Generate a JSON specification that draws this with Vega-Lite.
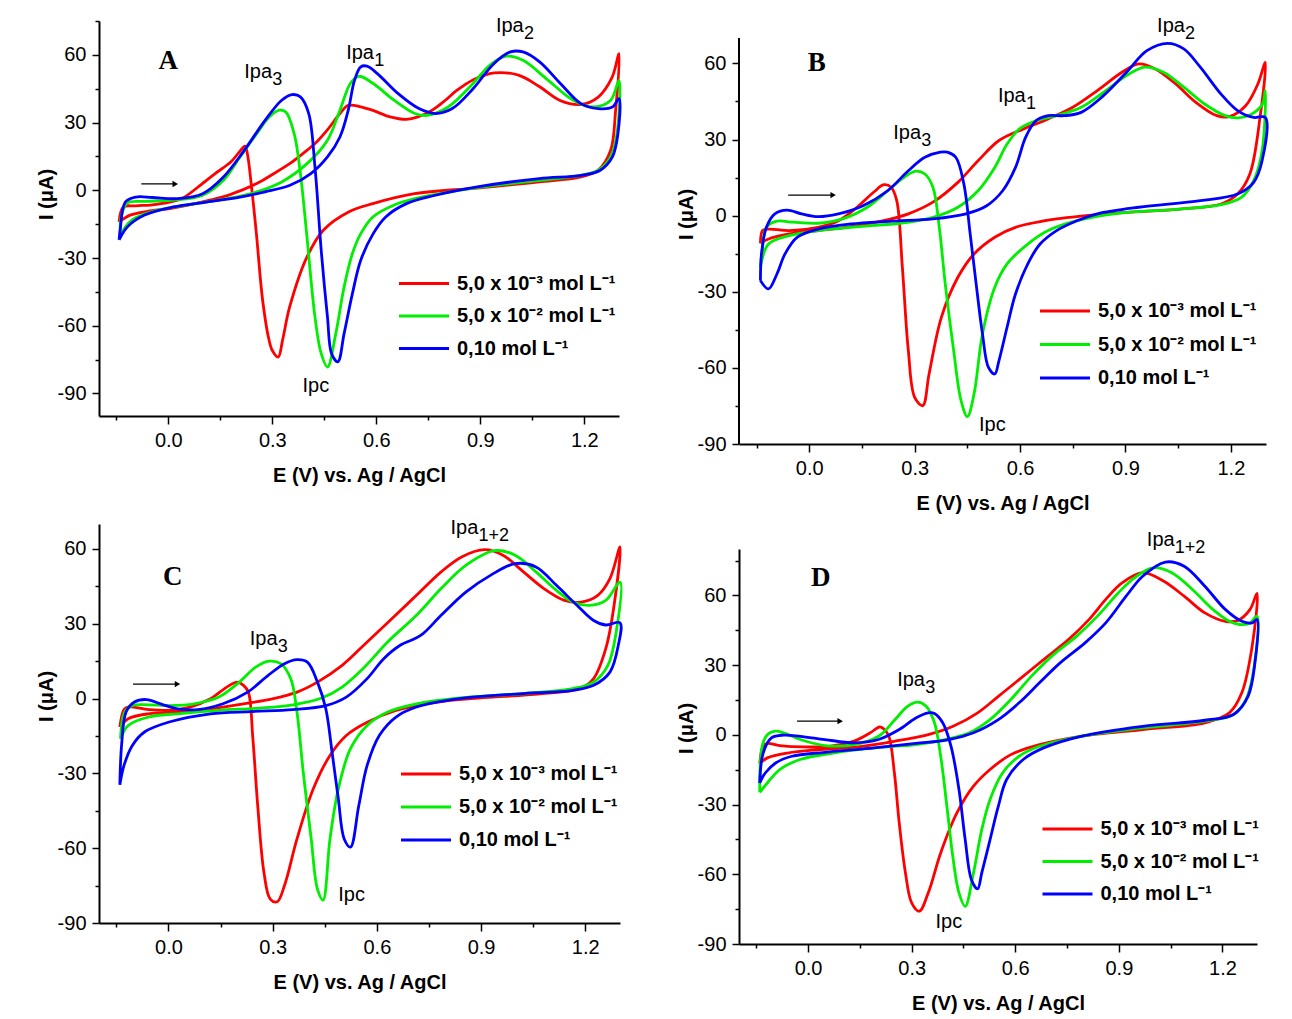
{
"$schema": "https://vega.github.io/schema/vega-lite/v6.json",
"background": "white",
"padding": {"left": 36, "top": 11, "right": 5, "bottom": 5},
"datasets": {
"A": [
{"s":"r","E":-0.142,"I":-14},{"s":"r","E":-0.11,"I":-11},{"s":"r","E":-0.06,"I":-9.3},{"s":"r","E":0,"I":-8.2},{"s":"r","E":0.06,"I":-6.5},{"s":"r","E":0.12,"I":-4.4},{"s":"r","E":0.18,"I":-1.8},{"s":"r","E":0.255,"I":3},{"s":"r","E":0.3,"I":7},{"s":"r","E":0.35,"I":11.8},{"s":"r","E":0.39,"I":16.5},{"s":"r","E":0.423,"I":20.7},{"s":"r","E":0.46,"I":27},{"s":"r","E":0.495,"I":34},{"s":"r","E":0.519,"I":37.6},{"s":"r","E":0.555,"I":37},{"s":"r","E":0.59,"I":35.4},{"s":"r","E":0.64,"I":32.5},{"s":"r","E":0.687,"I":31.4},{"s":"r","E":0.72,"I":32.5},{"s":"r","E":0.76,"I":35.4},{"s":"r","E":0.8,"I":40},{"s":"r","E":0.83,"I":44},{"s":"r","E":0.88,"I":49},{"s":"r","E":0.94,"I":52},{"s":"r","E":1.01,"I":51},{"s":"r","E":1.07,"I":46},{"s":"r","E":1.13,"I":39.8},{"s":"r","E":1.19,"I":38},{"s":"r","E":1.24,"I":41.3},{"s":"r","E":1.28,"I":50},{"s":"r","E":1.3,"I":60.5},{"s":"r","E":1.29,"I":35},{"s":"r","E":1.276,"I":17.7},{"s":"r","E":1.24,"I":8.9},{"s":"r","E":1.19,"I":5.9},{"s":"r","E":1.07,"I":3.7},{"s":"r","E":0.89,"I":1},{"s":"r","E":0.71,"I":-1.5},{"s":"r","E":0.59,"I":-5.9},{"s":"r","E":0.52,"I":-9.6},{"s":"r","E":0.447,"I":-17.7},{"s":"r","E":0.4,"I":-29.5},{"s":"r","E":0.35,"I":-51.7},{"s":"r","E":0.33,"I":-66},{"s":"r","E":0.317,"I":-73.9},{"s":"r","E":0.3,"I":-71},{"s":"r","E":0.29,"I":-66},{"s":"r","E":0.272,"I":-48.7},{"s":"r","E":0.254,"I":-19.2},{"s":"r","E":0.24,"I":1.5},{"s":"r","E":0.228,"I":16.2},{"s":"r","E":0.221,"I":19.6},{"s":"r","E":0.205,"I":17},{"s":"r","E":0.18,"I":12.5},{"s":"r","E":0.135,"I":7.4},{"s":"r","E":0.09,"I":2},{"s":"r","E":0.038,"I":-3.7},{"s":"r","E":-0.034,"I":-6.2},{"s":"r","E":-0.094,"I":-6.9},{"s":"r","E":-0.13,"I":-7.4},{"s":"r","E":-0.142,"I":-14},
{"s":"g","E":-0.139,"I":-19.9},{"s":"g","E":-0.106,"I":-13.3},{"s":"g","E":-0.034,"I":-8.9},{"s":"g","E":0.05,"I":-6.6},{"s":"g","E":0.17,"I":-3.7},{"s":"g","E":0.255,"I":-0.7},{"s":"g","E":0.327,"I":3.7},{"s":"g","E":0.4,"I":11.8},{"s":"g","E":0.459,"I":22.2},{"s":"g","E":0.495,"I":35.5},{"s":"g","E":0.525,"I":47.3},{"s":"g","E":0.549,"I":50.5},{"s":"g","E":0.591,"I":47.3},{"s":"g","E":0.651,"I":39.9},{"s":"g","E":0.711,"I":34},{"s":"g","E":0.747,"I":33.2},{"s":"g","E":0.807,"I":36.9},{"s":"g","E":0.879,"I":47.3},{"s":"g","E":0.927,"I":55.4},{"s":"g","E":0.975,"I":59.4},{"s":"g","E":1.023,"I":57.6},{"s":"g","E":1.096,"I":48.7},{"s":"g","E":1.168,"I":39.9},{"s":"g","E":1.228,"I":36.9},{"s":"g","E":1.276,"I":39.9},{"s":"g","E":1.3,"I":48.7},{"s":"g","E":1.294,"I":25.1},{"s":"g","E":1.276,"I":14.8},{"s":"g","E":1.24,"I":8.9},{"s":"g","E":1.19,"I":6.6},{"s":"g","E":1.07,"I":4.4},{"s":"g","E":0.891,"I":1.2},{"s":"g","E":0.711,"I":-3.7},{"s":"g","E":0.65,"I":-6.6},{"s":"g","E":0.59,"I":-11.8},{"s":"g","E":0.555,"I":-19.2},{"s":"g","E":0.531,"I":-28},{"s":"g","E":0.507,"I":-42.8},{"s":"g","E":0.483,"I":-63.5},{"s":"g","E":0.459,"I":-78.3},{"s":"g","E":0.441,"I":-72.4},{"s":"g","E":0.423,"I":-56.1},{"s":"g","E":0.399,"I":-19.2},{"s":"g","E":0.381,"I":7.4},{"s":"g","E":0.363,"I":25.1},{"s":"g","E":0.339,"I":34.7},{"s":"g","E":0.321,"I":35.5},{"s":"g","E":0.291,"I":32.5},{"s":"g","E":0.255,"I":25.1},{"s":"g","E":0.207,"I":14.8},{"s":"g","E":0.159,"I":4.4},{"s":"g","E":0.099,"I":-2.2},{"s":"g","E":0.014,"I":-4.4},{"s":"g","E":-0.07,"I":-4.9},{"s":"g","E":-0.118,"I":-5.6},{"s":"g","E":-0.136,"I":-11.8},{"s":"g","E":-0.139,"I":-19.9},
{"s":"b","E":-0.142,"I":-22},{"s":"b","E":-0.118,"I":-16.2},{"s":"b","E":-0.07,"I":-11.1},{"s":"b","E":0.014,"I":-7.4},{"s":"b","E":0.11,"I":-5.2},{"s":"b","E":0.207,"I":-3},{"s":"b","E":0.279,"I":-0.7},{"s":"b","E":0.351,"I":2.2},{"s":"b","E":0.411,"I":7.4},{"s":"b","E":0.459,"I":14.8},{"s":"b","E":0.495,"I":23.6},{"s":"b","E":0.519,"I":35.5},{"s":"b","E":0.537,"I":48.7},{"s":"b","E":0.555,"I":54.7},{"s":"b","E":0.573,"I":55},{"s":"b","E":0.603,"I":51.7},{"s":"b","E":0.663,"I":42.8},{"s":"b","E":0.723,"I":36.2},{"s":"b","E":0.771,"I":34},{"s":"b","E":0.819,"I":36.2},{"s":"b","E":0.879,"I":45},{"s":"b","E":0.939,"I":56.1},{"s":"b","E":0.987,"I":61.3},{"s":"b","E":1.023,"I":61.3},{"s":"b","E":1.071,"I":56.9},{"s":"b","E":1.131,"I":47.3},{"s":"b","E":1.19,"I":38.4},{"s":"b","E":1.24,"I":36.2},{"s":"b","E":1.281,"I":36.9},{"s":"b","E":1.3,"I":40.6},{"s":"b","E":1.297,"I":25.1},{"s":"b","E":1.281,"I":14.8},{"s":"b","E":1.246,"I":8.9},{"s":"b","E":1.19,"I":6.6},{"s":"b","E":1.07,"I":5.2},{"s":"b","E":0.891,"I":1.5},{"s":"b","E":0.771,"I":-2.2},{"s":"b","E":0.687,"I":-5.9},{"s":"b","E":0.627,"I":-11.8},{"s":"b","E":0.591,"I":-19.2},{"s":"b","E":0.555,"I":-31},{"s":"b","E":0.531,"I":-45.8},{"s":"b","E":0.507,"I":-63.5},{"s":"b","E":0.489,"I":-76},{"s":"b","E":0.471,"I":-72.4},{"s":"b","E":0.459,"I":-56.1},{"s":"b","E":0.441,"I":-26.6},{"s":"b","E":0.423,"I":10.3},{"s":"b","E":0.405,"I":34},{"s":"b","E":0.381,"I":41.4},{"s":"b","E":0.357,"I":42.4},{"s":"b","E":0.327,"I":39.9},{"s":"b","E":0.279,"I":31},{"s":"b","E":0.219,"I":17.7},{"s":"b","E":0.159,"I":5.9},{"s":"b","E":0.099,"I":-1.5},{"s":"b","E":0.026,"I":-3.7},{"s":"b","E":-0.046,"I":-3.2},{"s":"b","E":-0.094,"I":-3},{"s":"b","E":-0.124,"I":-5.2},{"s":"b","E":-0.139,"I":-17.7},{"s":"b","E":-0.142,"I":-22}
],
"B": [
{"s":"r","E":-0.139,"I":-10.9},{"s":"r","E":-0.116,"I":-9.2},{"s":"r","E":-0.057,"I":-7.2},{"s":"r","E":0.025,"I":-5.9},{"s":"r","E":0.118,"I":-4.3},{"s":"r","E":0.212,"I":-2},{"s":"r","E":0.282,"I":0.7},{"s":"r","E":0.352,"I":5.3},{"s":"r","E":0.423,"I":13.1},{"s":"r","E":0.481,"I":21.7},{"s":"r","E":0.54,"I":29.6},{"s":"r","E":0.61,"I":34.2},{"s":"r","E":0.68,"I":38.1},{"s":"r","E":0.75,"I":42.7},{"s":"r","E":0.82,"I":49.3},{"s":"r","E":0.89,"I":56.5},{"s":"r","E":0.938,"I":59.8},{"s":"r","E":0.985,"I":57.8},{"s":"r","E":1.043,"I":51.9},{"s":"r","E":1.1,"I":44.7},{"s":"r","E":1.16,"I":39.4},{"s":"r","E":1.195,"I":39},{"s":"r","E":1.242,"I":43.3},{"s":"r","E":1.277,"I":51.9},{"s":"r","E":1.298,"I":60.4},{"s":"r","E":1.283,"I":38.7},{"s":"r","E":1.254,"I":16.4},{"s":"r","E":1.219,"I":8.5},{"s":"r","E":1.172,"I":4.6},{"s":"r","E":1.055,"I":2.6},{"s":"r","E":0.879,"I":1.1},{"s":"r","E":0.704,"I":-1.3},{"s":"r","E":0.587,"I":-4.6},{"s":"r","E":0.528,"I":-8.5},{"s":"r","E":0.469,"I":-15.1},{"s":"r","E":0.423,"I":-24.3},{"s":"r","E":0.376,"I":-40.1},{"s":"r","E":0.341,"I":-62.4},{"s":"r","E":0.323,"I":-74.9},{"s":"r","E":0.3,"I":-71.6},{"s":"r","E":0.282,"I":-53.2},{"s":"r","E":0.265,"I":-20.4},{"s":"r","E":0.249,"I":5.9},{"s":"r","E":0.233,"I":11.2},{"s":"r","E":0.212,"I":12.2},{"s":"r","E":0.183,"I":9.2},{"s":"r","E":0.13,"I":2.6},{"s":"r","E":0.083,"I":-2},{"s":"r","E":0.025,"I":-4.6},{"s":"r","E":-0.057,"I":-5.9},{"s":"r","E":-0.116,"I":-5.3},{"s":"r","E":-0.133,"I":-5.9},{"s":"r","E":-0.139,"I":-10.9},
{"s":"g","E":-0.139,"I":-20.4},{"s":"g","E":-0.116,"I":-11.2},{"s":"g","E":-0.057,"I":-7.9},{"s":"g","E":0.025,"I":-5.9},{"s":"g","E":0.142,"I":-4.3},{"s":"g","E":0.259,"I":-3},{"s":"g","E":0.352,"I":-0.7},{"s":"g","E":0.423,"I":3.3},{"s":"g","E":0.481,"I":9.9},{"s":"g","E":0.528,"I":19},{"s":"g","E":0.563,"I":28.2},{"s":"g","E":0.598,"I":34.2},{"s":"g","E":0.645,"I":37.4},{"s":"g","E":0.704,"I":39.4},{"s":"g","E":0.774,"I":42.7},{"s":"g","E":0.844,"I":49.3},{"s":"g","E":0.903,"I":55.2},{"s":"g","E":0.955,"I":58.5},{"s":"g","E":1.008,"I":56.5},{"s":"g","E":1.066,"I":50.6},{"s":"g","E":1.125,"I":44},{"s":"g","E":1.184,"I":39.4},{"s":"g","E":1.219,"I":38.5},{"s":"g","E":1.26,"I":40.1},{"s":"g","E":1.29,"I":44},{"s":"g","E":1.298,"I":49.3},{"s":"g","E":1.289,"I":25.6},{"s":"g","E":1.265,"I":13.8},{"s":"g","E":1.23,"I":7.2},{"s":"g","E":1.172,"I":4.3},{"s":"g","E":1.055,"I":2.6},{"s":"g","E":0.879,"I":0.9},{"s":"g","E":0.762,"I":-2},{"s":"g","E":0.68,"I":-5.9},{"s":"g","E":0.622,"I":-11.2},{"s":"g","E":0.563,"I":-19},{"s":"g","E":0.528,"I":-28.2},{"s":"g","E":0.493,"I":-46.6},{"s":"g","E":0.469,"I":-70.3},{"s":"g","E":0.45,"I":-79.2},{"s":"g","E":0.432,"I":-72.9},{"s":"g","E":0.411,"I":-53.2},{"s":"g","E":0.387,"I":-26.9},{"s":"g","E":0.37,"I":-4.6},{"s":"g","E":0.352,"I":11.2},{"s":"g","E":0.329,"I":16.4},{"s":"g","E":0.303,"I":17.5},{"s":"g","E":0.27,"I":15.1},{"s":"g","E":0.224,"I":9.9},{"s":"g","E":0.165,"I":3.3},{"s":"g","E":0.095,"I":-1.3},{"s":"g","E":0.025,"I":-3},{"s":"g","E":-0.046,"I":-2.6},{"s":"g","E":-0.092,"I":-2.2},{"s":"g","E":-0.122,"I":-4.6},{"s":"g","E":-0.133,"I":-12.5},{"s":"g","E":-0.139,"I":-20.4},
{"s":"b","E":-0.139,"I":-25.6},{"s":"b","E":-0.116,"I":-28.9},{"s":"b","E":-0.092,"I":-23},{"s":"b","E":-0.069,"I":-15.1},{"s":"b","E":-0.034,"I":-8.5},{"s":"b","E":0.025,"I":-5.3},{"s":"b","E":0.118,"I":-3.3},{"s":"b","E":0.235,"I":-2.2},{"s":"b","E":0.352,"I":-1.3},{"s":"b","E":0.446,"I":0.7},{"s":"b","E":0.505,"I":3.9},{"s":"b","E":0.551,"I":9.9},{"s":"b","E":0.587,"I":19},{"s":"b","E":0.616,"I":30.9},{"s":"b","E":0.645,"I":37.4},{"s":"b","E":0.68,"I":39.4},{"s":"b","E":0.727,"I":39.4},{"s":"b","E":0.774,"I":40.7},{"s":"b","E":0.832,"I":46.6},{"s":"b","E":0.903,"I":56.5},{"s":"b","E":0.961,"I":65},{"s":"b","E":1.02,"I":67.9},{"s":"b","E":1.066,"I":65.7},{"s":"b","E":1.113,"I":58.5},{"s":"b","E":1.172,"I":47.9},{"s":"b","E":1.219,"I":41.4},{"s":"b","E":1.265,"I":38.7},{"s":"b","E":1.298,"I":38.7},{"s":"b","E":1.289,"I":21.7},{"s":"b","E":1.265,"I":13.1},{"s":"b","E":1.219,"I":8.5},{"s":"b","E":1.113,"I":5.9},{"s":"b","E":0.938,"I":3.3},{"s":"b","E":0.82,"I":0.7},{"s":"b","E":0.762,"I":-2},{"s":"b","E":0.704,"I":-5.9},{"s":"b","E":0.657,"I":-11.2},{"s":"b","E":0.622,"I":-19},{"s":"b","E":0.587,"I":-30.9},{"s":"b","E":0.563,"I":-44},{"s":"b","E":0.54,"I":-57.1},{"s":"b","E":0.528,"I":-62.4},{"s":"b","E":0.51,"I":-59.8},{"s":"b","E":0.493,"I":-46.6},{"s":"b","E":0.475,"I":-26.9},{"s":"b","E":0.458,"I":-7.2},{"s":"b","E":0.44,"I":12.5},{"s":"b","E":0.417,"I":23},{"s":"b","E":0.393,"I":25},{"s":"b","E":0.373,"I":25},{"s":"b","E":0.329,"I":23},{"s":"b","E":0.282,"I":17.7},{"s":"b","E":0.224,"I":9.9},{"s":"b","E":0.153,"I":3.9},{"s":"b","E":0.083,"I":0.7},{"s":"b","E":0.025,"I":-0.4},{"s":"b","E":-0.022,"I":0.7},{"s":"b","E":-0.063,"I":2.2},{"s":"b","E":-0.098,"I":0.7},{"s":"b","E":-0.122,"I":-4.6},{"s":"b","E":-0.136,"I":-15.1},{"s":"b","E":-0.139,"I":-25.6}
],
"C": [
{"s":"r","E":-0.14,"I":-11.4},{"s":"r","E":-0.116,"I":-8.1},{"s":"r","E":-0.057,"I":-6.1},{"s":"r","E":0.026,"I":-5.4},{"s":"r","E":0.121,"I":-4.1},{"s":"r","E":0.216,"I":-2.1},{"s":"r","E":0.299,"I":-0.1},{"s":"r","E":0.37,"I":2.6},{"s":"r","E":0.429,"I":6.6},{"s":"r","E":0.5,"I":13.3},{"s":"r","E":0.572,"I":22.7},{"s":"r","E":0.643,"I":32},{"s":"r","E":0.714,"I":41.4},{"s":"r","E":0.785,"I":50.8},{"s":"r","E":0.844,"I":56.8},{"s":"r","E":0.91,"I":59.7},{"s":"r","E":0.963,"I":57.5},{"s":"r","E":1.022,"I":50.8},{"s":"r","E":1.081,"I":44.1},{"s":"r","E":1.14,"I":39.4},{"s":"r","E":1.188,"I":38.7},{"s":"r","E":1.236,"I":41.4},{"s":"r","E":1.271,"I":48.1},{"s":"r","E":1.3,"I":60.8},{"s":"r","E":1.283,"I":37.4},{"s":"r","E":1.259,"I":20},{"s":"r","E":1.224,"I":8},{"s":"r","E":1.188,"I":4.2},{"s":"r","E":1.07,"I":1.9},{"s":"r","E":0.892,"I":0.2},{"s":"r","E":0.773,"I":-1.4},{"s":"r","E":0.655,"I":-4.8},{"s":"r","E":0.572,"I":-9.5},{"s":"r","E":0.512,"I":-14.8},{"s":"r","E":0.465,"I":-22.8},{"s":"r","E":0.417,"I":-36.2},{"s":"r","E":0.37,"I":-56.3},{"s":"r","E":0.334,"I":-75},{"s":"r","E":0.313,"I":-81.5},{"s":"r","E":0.293,"I":-80.4},{"s":"r","E":0.275,"I":-69.8},{"s":"r","E":0.257,"I":-43},{"s":"r","E":0.243,"I":-16.1},{"s":"r","E":0.23,"I":2.6},{"s":"r","E":0.216,"I":5.3},{"s":"r","E":0.198,"I":6.6},{"s":"r","E":0.168,"I":4.6},{"s":"r","E":0.121,"I":-0.1},{"s":"r","E":0.062,"I":-3.4},{"s":"r","E":0.002,"I":-4.7},{"s":"r","E":-0.057,"I":-4.4},{"s":"r","E":-0.116,"I":-3.4},{"s":"r","E":-0.128,"I":-4.4},{"s":"r","E":-0.14,"I":-11.4},
{"s":"g","E":-0.138,"I":-16.1},{"s":"g","E":-0.116,"I":-10.8},{"s":"g","E":-0.057,"I":-7.4},{"s":"g","E":0.026,"I":-6.1},{"s":"g","E":0.145,"I":-4.7},{"s":"g","E":0.263,"I":-3.8},{"s":"g","E":0.358,"I":-2.5},{"s":"g","E":0.441,"I":0.2},{"s":"g","E":0.5,"I":4.6},{"s":"g","E":0.56,"I":12},{"s":"g","E":0.631,"I":22.7},{"s":"g","E":0.714,"I":33.4},{"s":"g","E":0.785,"I":44.1},{"s":"g","E":0.856,"I":53.4},{"s":"g","E":0.939,"I":59.3},{"s":"g","E":0.998,"I":57.5},{"s":"g","E":1.058,"I":50.8},{"s":"g","E":1.117,"I":43.4},{"s":"g","E":1.164,"I":38.7},{"s":"g","E":1.212,"I":37.4},{"s":"g","E":1.259,"I":39.4},{"s":"g","E":1.3,"I":46.7},{"s":"g","E":1.289,"I":26.7},{"s":"g","E":1.265,"I":13.3},{"s":"g","E":1.224,"I":6.6},{"s":"g","E":1.164,"I":4},{"s":"g","E":1.01,"I":1.9},{"s":"g","E":0.832,"I":0.2},{"s":"g","E":0.714,"I":-2.1},{"s":"g","E":0.631,"I":-5.4},{"s":"g","E":0.572,"I":-10.8},{"s":"g","E":0.524,"I":-20.1},{"s":"g","E":0.489,"I":-36.2},{"s":"g","E":0.465,"I":-56.3},{"s":"g","E":0.445,"I":-80.8},{"s":"g","E":0.429,"I":-76.4},{"s":"g","E":0.411,"I":-56.3},{"s":"g","E":0.388,"I":-29.5},{"s":"g","E":0.37,"I":-5.4},{"s":"g","E":0.352,"I":8},{"s":"g","E":0.323,"I":14},{"s":"g","E":0.29,"I":15},{"s":"g","E":0.251,"I":12.6},{"s":"g","E":0.204,"I":6.6},{"s":"g","E":0.145,"I":0.6},{"s":"g","E":0.074,"I":-2.1},{"s":"g","E":0.002,"I":-2.8},{"s":"g","E":-0.057,"I":-2.5},{"s":"g","E":-0.104,"I":-2.8},{"s":"g","E":-0.126,"I":-5.4},{"s":"g","E":-0.138,"I":-16.1},
{"s":"b","E":-0.14,"I":-34.6},{"s":"b","E":-0.128,"I":-26.8},{"s":"b","E":-0.104,"I":-18.8},{"s":"b","E":-0.069,"I":-13.4},{"s":"b","E":0.002,"I":-9.4},{"s":"b","E":0.121,"I":-6.1},{"s":"b","E":0.24,"I":-5.2},{"s":"b","E":0.358,"I":-4.4},{"s":"b","E":0.453,"I":-2.8},{"s":"b","E":0.512,"I":0.6},{"s":"b","E":0.572,"I":8},{"s":"b","E":0.619,"I":15.9},{"s":"b","E":0.666,"I":21.3},{"s":"b","E":0.726,"I":25.3},{"s":"b","E":0.785,"I":33.4},{"s":"b","E":0.856,"I":42.7},{"s":"b","E":0.927,"I":49.4},{"s":"b","E":0.998,"I":54.1},{"s":"b","E":1.058,"I":52.8},{"s":"b","E":1.117,"I":45.4},{"s":"b","E":1.176,"I":37.4},{"s":"b","E":1.224,"I":31.3},{"s":"b","E":1.259,"I":29.5},{"s":"b","E":1.3,"I":30.4},{"s":"b","E":1.295,"I":21.3},{"s":"b","E":1.271,"I":10.6},{"s":"b","E":1.224,"I":5.3},{"s":"b","E":1.164,"I":3.3},{"s":"b","E":1.01,"I":1.9},{"s":"b","E":0.832,"I":-0.1},{"s":"b","E":0.714,"I":-3.4},{"s":"b","E":0.655,"I":-7.4},{"s":"b","E":0.607,"I":-14.8},{"s":"b","E":0.572,"I":-26.8},{"s":"b","E":0.548,"I":-42.9},{"s":"b","E":0.524,"I":-59.6},{"s":"b","E":0.506,"I":-56.3},{"s":"b","E":0.489,"I":-40.2},{"s":"b","E":0.471,"I":-21.5},{"s":"b","E":0.453,"I":-4.1},{"s":"b","E":0.429,"I":6.6},{"s":"b","E":0.4,"I":14.6},{"s":"b","E":0.37,"I":15.6},{"s":"b","E":0.334,"I":14},{"s":"b","E":0.287,"I":9.3},{"s":"b","E":0.228,"I":2.6},{"s":"b","E":0.157,"I":-2.1},{"s":"b","E":0.085,"I":-4.4},{"s":"b","E":0.026,"I":-4.1},{"s":"b","E":-0.021,"I":-2.2},{"s":"b","E":-0.063,"I":-0.4},{"s":"b","E":-0.098,"I":-1.4},{"s":"b","E":-0.122,"I":-5.4},{"s":"b","E":-0.135,"I":-18.8},{"s":"b","E":-0.14,"I":-34.6}
],
"D": [
{"s":"r","E":-0.14,"I":-12.3},{"s":"r","E":-0.118,"I":-9.9},{"s":"r","E":-0.059,"I":-7.8},{"s":"r","E":0.037,"I":-6.3},{"s":"r","E":0.157,"I":-4.9},{"s":"r","E":0.252,"I":-2.7},{"s":"r","E":0.348,"I":0.1},{"s":"r","E":0.42,"I":3.7},{"s":"r","E":0.491,"I":9.5},{"s":"r","E":0.551,"I":16.6},{"s":"r","E":0.611,"I":23.8},{"s":"r","E":0.682,"I":32.4},{"s":"r","E":0.754,"I":41},{"s":"r","E":0.814,"I":49.7},{"s":"r","E":0.862,"I":58.3},{"s":"r","E":0.91,"I":65.5},{"s":"r","E":0.969,"I":69.8},{"s":"r","E":1.029,"I":66.2},{"s":"r","E":1.089,"I":59.7},{"s":"r","E":1.149,"I":52.5},{"s":"r","E":1.208,"I":48.9},{"s":"r","E":1.244,"I":49.2},{"s":"r","E":1.28,"I":54},{"s":"r","E":1.3,"I":60.9},{"s":"r","E":1.286,"I":38.2},{"s":"r","E":1.256,"I":18.1},{"s":"r","E":1.22,"I":9.5},{"s":"r","E":1.149,"I":5.2},{"s":"r","E":0.969,"I":2.3},{"s":"r","E":0.79,"I":-0.6},{"s":"r","E":0.67,"I":-4.2},{"s":"r","E":0.587,"I":-8.5},{"s":"r","E":0.527,"I":-14.9},{"s":"r","E":0.479,"I":-22.1},{"s":"r","E":0.431,"I":-33.6},{"s":"r","E":0.384,"I":-50.8},{"s":"r","E":0.348,"I":-68},{"s":"r","E":0.322,"I":-75.9},{"s":"r","E":0.3,"I":-72.3},{"s":"r","E":0.282,"I":-59.4},{"s":"r","E":0.264,"I":-37.9},{"s":"r","E":0.25,"I":-16.4},{"s":"r","E":0.234,"I":-0.6},{"s":"r","E":0.219,"I":2.6},{"s":"r","E":0.207,"I":3.4},{"s":"r","E":0.18,"I":0.9},{"s":"r","E":0.133,"I":-2.7},{"s":"r","E":0.061,"I":-4.9},{"s":"r","E":-0.011,"I":-5.2},{"s":"r","E":-0.082,"I":-4.6},{"s":"r","E":-0.118,"I":-3.7},{"s":"r","E":-0.13,"I":-4.9},{"s":"r","E":-0.14,"I":-12.3},
{"s":"g","E":-0.14,"I":-24.7},{"s":"g","E":-0.118,"I":-20.7},{"s":"g","E":-0.082,"I":-14.9},{"s":"g","E":-0.023,"I":-10.6},{"s":"g","E":0.073,"I":-7.8},{"s":"g","E":0.192,"I":-5.6},{"s":"g","E":0.312,"I":-4.2},{"s":"g","E":0.396,"I":-2},{"s":"g","E":0.467,"I":0.9},{"s":"g","E":0.527,"I":6.6},{"s":"g","E":0.587,"I":15.2},{"s":"g","E":0.647,"I":25.3},{"s":"g","E":0.706,"I":33.9},{"s":"g","E":0.778,"I":42.5},{"s":"g","E":0.838,"I":51.1},{"s":"g","E":0.898,"I":61.1},{"s":"g","E":0.945,"I":67.6},{"s":"g","E":0.999,"I":71.9},{"s":"g","E":1.053,"I":69.8},{"s":"g","E":1.113,"I":62.6},{"s":"g","E":1.172,"I":54},{"s":"g","E":1.22,"I":48.9},{"s":"g","E":1.25,"I":47.5},{"s":"g","E":1.28,"I":48.2},{"s":"g","E":1.3,"I":51.1},{"s":"g","E":1.292,"I":29.6},{"s":"g","E":1.268,"I":15.2},{"s":"g","E":1.232,"I":8.8},{"s":"g","E":1.149,"I":5.9},{"s":"g","E":0.969,"I":3},{"s":"g","E":0.79,"I":-0.6},{"s":"g","E":0.67,"I":-4.9},{"s":"g","E":0.611,"I":-9.2},{"s":"g","E":0.563,"I":-16.4},{"s":"g","E":0.527,"I":-27.8},{"s":"g","E":0.503,"I":-40.8},{"s":"g","E":0.479,"I":-59.4},{"s":"g","E":0.455,"I":-73.8},{"s":"g","E":0.437,"I":-68},{"s":"g","E":0.419,"I":-52.2},{"s":"g","E":0.402,"I":-30.7},{"s":"g","E":0.384,"I":-9.2},{"s":"g","E":0.366,"I":5.2},{"s":"g","E":0.342,"I":12.3},{"s":"g","E":0.318,"I":14.1},{"s":"g","E":0.288,"I":12.3},{"s":"g","E":0.252,"I":6.6},{"s":"g","E":0.204,"I":-0.6},{"s":"g","E":0.133,"I":-4.2},{"s":"g","E":0.049,"I":-4.6},{"s":"g","E":-0.023,"I":-2},{"s":"g","E":-0.071,"I":0.9},{"s":"g","E":-0.094,"I":1.6},{"s":"g","E":-0.118,"I":0.1},{"s":"g","E":-0.133,"I":-4.9},{"s":"g","E":-0.14,"I":-24.7},
{"s":"b","E":-0.14,"I":-20.7},{"s":"b","E":-0.124,"I":-16.4},{"s":"b","E":-0.094,"I":-12.1},{"s":"b","E":-0.047,"I":-9.2},{"s":"b","E":0.049,"I":-7.5},{"s":"b","E":0.192,"I":-5.6},{"s":"b","E":0.312,"I":-3.7},{"s":"b","E":0.408,"I":-2},{"s":"b","E":0.479,"I":0.9},{"s":"b","E":0.551,"I":6.6},{"s":"b","E":0.611,"I":13.8},{"s":"b","E":0.67,"I":22.4},{"s":"b","E":0.73,"I":31},{"s":"b","E":0.802,"I":39.6},{"s":"b","E":0.862,"I":48.2},{"s":"b","E":0.921,"I":59.7},{"s":"b","E":0.969,"I":68.3},{"s":"b","E":1.035,"I":74.4},{"s":"b","E":1.089,"I":72.6},{"s":"b","E":1.149,"I":64},{"s":"b","E":1.208,"I":54},{"s":"b","E":1.256,"I":48.9},{"s":"b","E":1.286,"I":48.2},{"s":"b","E":1.3,"I":49.7},{"s":"b","E":1.294,"I":31},{"s":"b","E":1.274,"I":16.6},{"s":"b","E":1.232,"I":8.8},{"s":"b","E":1.149,"I":6.3},{"s":"b","E":0.969,"I":3.7},{"s":"b","E":0.79,"I":-0.6},{"s":"b","E":0.682,"I":-5.6},{"s":"b","E":0.623,"I":-10.6},{"s":"b","E":0.575,"I":-19.2},{"s":"b","E":0.551,"I":-30.7},{"s":"b","E":0.527,"I":-45.1},{"s":"b","E":0.503,"I":-59.4},{"s":"b","E":0.491,"I":-66.3},{"s":"b","E":0.473,"I":-62.3},{"s":"b","E":0.455,"I":-45.1},{"s":"b","E":0.437,"I":-23.5},{"s":"b","E":0.414,"I":-4.9},{"s":"b","E":0.39,"I":5.2},{"s":"b","E":0.366,"I":9.2},{"s":"b","E":0.348,"I":9.5},{"s":"b","E":0.312,"I":7.3},{"s":"b","E":0.264,"I":2.3},{"s":"b","E":0.204,"I":-2},{"s":"b","E":0.133,"I":-3.4},{"s":"b","E":0.049,"I":-2},{"s":"b","E":-0.023,"I":-0.6},{"s":"b","E":-0.071,"I":-0.1},{"s":"b","E":-0.106,"I":-1.3},{"s":"b","E":-0.13,"I":-7.8},{"s":"b","E":-0.14,"I":-20.7}
]
},
"spacing": 49,
"resolve": {"scale": {"x": "independent", "y": "independent", "color": "independent"}, "axis": {"x": "independent", "y": "independent"}, "legend": {"color": "independent"}},
"hconcat": [
{
"vconcat": [
{
"width": 520, "height": 395,
"encoding": {
"x": {"field": "E", "type": "quantitative", "scale": {"domain": [-0.2, 1.3], "nice": false, "zero": false},
 "axis": {"title": "E (V) vs. Ag / AgCl", "values": [-0.15,0,0.15,0.3,0.45,0.6,0.75,0.9,1.05,1.2], "labelExpr": "abs(round(datum.value/0.15)) % 2 == 0 ? format(datum.value, '.1f') : ''", "tickSize": {"condition": {"test": "abs(round(datum.value/0.15)) % 2 == 1", "value": 4}, "value": 8}}},
"y": {"field": "I", "type": "quantitative", "scale": {"domain": [-100, 75], "nice": false, "zero": false},
 "axis": {"title": "I (μA)", "titleY": 173, "values": [-90,-75,-60,-45,-30,-15,0,15,30,45,60,75], "labelExpr": "abs(datum.value) % 30 == 0 ? '' + datum.value : ''", "tickSize": {"condition": {"test": "abs(datum.value) % 30 != 0", "value": 4}, "value": 7}}}
},
"layer": [
{"data": {"name": "A"}, "mark": {"type": "line"},
 "encoding": {"order": {"value": null}, "color": {"field": "s", "type": "nominal", "scale": {"domain": ["r","g","b"], "range": ["#ff0000","#00ee00","#0000ff"]},
  "legend": {"orient": "none", "legendX": 313.5, "legendY": 251, "rowPadding": 10.5, "title": null, "labelExpr": "datum.label == 'r' ? '5,0 x 10⁻³ mol L⁻¹' : datum.label == 'g' ? '5,0 x 10⁻² mol L⁻¹' : '0,10 mol L⁻¹'"}}}},
{"data": {"values": [{"E":0.219,"I":49.9,"t":"Ipa","u":"3"},{"E":0.513,"I":58.3,"t":"Ipa","u":"1"},{"E":0.945,"I":70.2,"t":"Ipa","u":"2"},{"E":0.387,"I":-89.4,"t":"Ipc","u":""}]},
 "layer": [
  {"mark": {"type": "text", "align": "left", "baseline": "alphabetic", "fontSize": 20}, "encoding": {"text": {"field": "t"}}},
  {"mark": {"type": "text", "align": "left", "baseline": "alphabetic", "fontSize": 18, "dx": 28, "dy": 7}, "encoding": {"text": {"field": "u"}}}
 ]},
{"data": {"values": [{"E":0.0,"I":53.9,"t":"A"}]}, "mark": {"type": "text", "align": "center", "baseline": "alphabetic", "font": "Liberation Serif", "fontWeight": "bold", "fontSize": 27}, "encoding": {"text": {"field": "t"}}},
{"data": {"values": [{"E":0.02,"E0":-0.078,"I":2.8}]},
 "layer": [
  {"mark": {"type": "rule", "color": "black", "strokeWidth": 1.2}, "encoding": {"x2": {"field": "E0"}}},
  {"mark": {"type": "point", "shape": "triangle-right", "filled": true, "color": "black", "size": 40, "opacity": 1}, "encoding": {}}
 ]}
]
},
{
"width": 521, "height": 399,
"encoding": {
"x": {"field": "E", "type": "quantitative", "scale": {"domain": [-0.2, 1.3], "nice": false, "zero": false},
 "axis": {"title": "E (V) vs. Ag / AgCl", "values": [-0.15,0,0.15,0.3,0.45,0.6,0.75,0.9,1.05,1.2], "labelExpr": "abs(round(datum.value/0.15)) % 2 == 0 ? format(datum.value, '.1f') : ''", "tickSize": {"condition": {"test": "abs(round(datum.value/0.15)) % 2 == 1", "value": 4}, "value": 8}}},
"y": {"field": "I", "type": "quantitative", "scale": {"domain": [-90, 70], "nice": false, "zero": false},
 "axis": {"title": "I (μA)", "titleY": 172, "values": [-90,-75,-60,-45,-30,-15,0,15,30,45,60], "labelExpr": "abs(datum.value) % 30 == 0 ? '' + datum.value : ''", "tickSize": {"condition": {"test": "abs(datum.value) % 30 != 0", "value": 4}, "value": 7}}}
},
"layer": [
{"data": {"name": "C"}, "mark": {"type": "line"},
 "encoding": {"order": {"value": null}, "color": {"field": "s", "type": "nominal", "scale": {"domain": ["r","g","b"], "range": ["#ff0000","#00ee00","#0000ff"]},
  "legend": {"orient": "none", "legendX": 315.5, "legendY": 238.5, "rowPadding": 11, "title": null, "labelExpr": "datum.label == 'r' ? '5,0 x 10⁻³ mol L⁻¹' : datum.label == 'g' ? '5,0 x 10⁻² mol L⁻¹' : '0,10 mol L⁻¹'"}}}},
{"data": {"values": [{"E":0.234,"I":21.3,"t":"Ipa","u":"3"},{"E":0.812,"I":65.8,"t":"Ipa","u":"1+2"},{"E":0.489,"I":-81.1,"t":"Ipc","u":""}]},
 "layer": [
  {"mark": {"type": "text", "align": "left", "baseline": "alphabetic", "fontSize": 20}, "encoding": {"text": {"field": "t"}}},
  {"mark": {"type": "text", "align": "left", "baseline": "alphabetic", "fontSize": 18, "dx": 28, "dy": 7}, "encoding": {"text": {"field": "u"}}}
 ]},
{"data": {"values": [{"E":0.012,"I":45.7,"t":"C"}]}, "mark": {"type": "text", "align": "center", "baseline": "alphabetic", "font": "Liberation Serif", "fontWeight": "bold", "fontSize": 27}, "encoding": {"text": {"field": "t"}}},
{"data": {"values": [{"E":0.026,"E0":-0.102,"I":5.8}]},
 "layer": [
  {"mark": {"type": "rule", "color": "black", "strokeWidth": 1.2}, "encoding": {"x2": {"field": "E0"}}},
  {"mark": {"type": "point", "shape": "triangle-right", "filled": true, "color": "black", "size": 40, "opacity": 1}, "encoding": {}}
 ]}
]
}
],
"bounds": "flush", "spacing": 108,
"resolve": {"scale": {"x": "independent", "y": "independent", "color": "independent"}, "axis": {"x": "independent", "y": "independent"}, "legend": {"color": "independent"}}
},
{
"vconcat": [
{
"width": 527, "height": 423,
"encoding": {
"x": {"field": "E", "type": "quantitative", "scale": {"domain": [-0.2, 1.3], "nice": false, "zero": false},
 "axis": {"title": "E (V) vs. Ag / AgCl", "values": [-0.15,0,0.15,0.3,0.45,0.6,0.75,0.9,1.05,1.2], "labelExpr": "abs(round(datum.value/0.15)) % 2 == 0 ? format(datum.value, '.1f') : ''", "tickSize": {"condition": {"test": "abs(round(datum.value/0.15)) % 2 == 1", "value": 4}, "value": 8}}},
"y": {"field": "I", "type": "quantitative", "scale": {"domain": [-90, 76.7], "nice": false, "zero": false},
 "axis": {"title": "I (μA)", "titleY": 193, "domain": false, "values": [-90,-75,-60,-45,-30,-15,0,15,30,45,60], "labelExpr": "abs(datum.value) % 30 == 0 ? '' + datum.value : ''", "tickSize": {"condition": {"test": "abs(datum.value) % 30 != 0", "value": 4}, "value": 7}}}
},
"layer": [
{"data": {"values": [{"E": -0.2, "I": -90, "I2": 70}]}, "mark": {"type": "rule", "color": "black", "strokeWidth": 2}, "encoding": {"y2": {"field": "I2"}}},
{"data": {"name": "B"}, "mark": {"type": "line"},
 "encoding": {"order": {"value": null}, "color": {"field": "s", "type": "nominal", "scale": {"domain": ["r","g","b"], "range": ["#ff0000","#00ee00","#0000ff"]},
  "legend": {"orient": "none", "legendX": 314.5, "legendY": 278.5, "rowPadding": 11.5, "title": null, "labelExpr": "datum.label == 'r' ? '5,0 x 10⁻³ mol L⁻¹' : datum.label == 'g' ? '5,0 x 10⁻² mol L⁻¹' : '0,10 mol L⁻¹'"}}}},
{"data": {"values": [{"E":0.239,"I":30.2,"t":"Ipa","u":"3"},{"E":0.537,"I":44.7,"t":"Ipa","u":"1"},{"E":0.99,"I":72.2,"t":"Ipa","u":"2"},{"E":0.483,"I":-85,"t":"Ipc","u":""}]},
 "layer": [
  {"mark": {"type": "text", "align": "left", "baseline": "alphabetic", "fontSize": 20}, "encoding": {"text": {"field": "t"}}},
  {"mark": {"type": "text", "align": "left", "baseline": "alphabetic", "fontSize": 18, "dx": 28, "dy": 7}, "encoding": {"text": {"field": "u"}}}
 ]},
{"data": {"values": [{"E":0.021,"I":57.1,"t":"B"}]}, "mark": {"type": "text", "align": "center", "baseline": "alphabetic", "font": "Liberation Serif", "fontWeight": "bold", "fontSize": 27}, "encoding": {"text": {"field": "t"}}},
{"data": {"values": [{"E":0.068,"E0":-0.06,"I":8.1}]},
 "layer": [
  {"mark": {"type": "rule", "color": "black", "strokeWidth": 1.2}, "encoding": {"x2": {"field": "E0"}}},
  {"mark": {"type": "point", "shape": "triangle-right", "filled": true, "color": "black", "size": 40, "opacity": 1}, "encoding": {}}
 ]}
]
},
{
"width": 518, "height": 395,
"encoding": {
"x": {"field": "E", "type": "quantitative", "scale": {"domain": [-0.2, 1.3], "nice": false, "zero": false},
 "axis": {"title": "E (V) vs. Ag / AgCl", "values": [-0.15,0,0.15,0.3,0.45,0.6,0.75,0.9,1.05,1.2], "labelExpr": "abs(round(datum.value/0.15)) % 2 == 0 ? format(datum.value, '.1f') : ''", "tickSize": {"condition": {"test": "abs(round(datum.value/0.15)) % 2 == 1", "value": 4}, "value": 8}}},
"y": {"field": "I", "type": "quantitative", "scale": {"domain": [-90, 80], "nice": false, "zero": false},
 "axis": {"title": "I (μA)", "titleY": 179, "values": [-90,-75,-60,-45,-30,-15,0,15,30,45,60,75], "labelExpr": "abs(datum.value) % 30 == 0 ? '' + datum.value : ''", "tickSize": {"condition": {"test": "abs(datum.value) % 30 != 0", "value": 4}, "value": 7}}}
},
"layer": [
{"data": {"name": "D"}, "mark": {"type": "line"},
 "encoding": {"order": {"value": null}, "color": {"field": "s", "type": "nominal", "scale": {"domain": ["r","g","b"], "range": ["#ff0000","#00ee00","#0000ff"]},
  "legend": {"orient": "none", "legendX": 317, "legendY": 268.5, "rowPadding": 10.5, "title": null, "labelExpr": "datum.label == 'r' ? '5,0 x 10⁻³ mol L⁻¹' : datum.label == 'g' ? '5,0 x 10⁻² mol L⁻¹' : '0,10 mol L⁻¹'"}}}},
{"data": {"values": [{"E":0.258,"I":21,"t":"Ipa","u":"3"},{"E":0.981,"I":81.2,"t":"Ipa","u":"1+2"},{"E":0.369,"I":-83.1,"t":"Ipc","u":""}]},
 "layer": [
  {"mark": {"type": "text", "align": "left", "baseline": "alphabetic", "fontSize": 20}, "encoding": {"text": {"field": "t"}}},
  {"mark": {"type": "text", "align": "left", "baseline": "alphabetic", "fontSize": 18, "dx": 28, "dy": 7}, "encoding": {"text": {"field": "u"}}}
 ]},
{"data": {"values": [{"E":0.037,"I":64,"t":"D"}]}, "mark": {"type": "text", "align": "center", "baseline": "alphabetic", "font": "Liberation Serif", "fontWeight": "bold", "fontSize": 27}, "encoding": {"text": {"field": "t"}}},
{"data": {"values": [{"E":0.093,"E0":-0.032,"I":5.9}]},
 "layer": [
  {"mark": {"type": "rule", "color": "black", "strokeWidth": 1.2}, "encoding": {"x2": {"field": "E0"}}},
  {"mark": {"type": "point", "shape": "triangle-right", "filled": true, "color": "black", "size": 40, "opacity": 1}, "encoding": {}}
 ]}
]
}
],
"bounds": "flush", "spacing": 105,
"resolve": {"scale": {"x": "independent", "y": "independent", "color": "independent"}, "axis": {"x": "independent", "y": "independent"}, "legend": {"color": "independent"}}
}
],
"config": {
"view": {"stroke": null},
"font": "Liberation Sans",
"line": {"strokeWidth": 2.8, "interpolate": "catmull-rom"},
"text": {"font": "Liberation Sans", "color": "black"},
"axis": {"grid": false, "domainColor": "black", "domainWidth": 2, "tickColor": "black", "tickWidth": 1.5, "labelFont": "Liberation Sans", "labelFontSize": 20, "labelColor": "black", "labelOverlap": false, "labelFlush": false, "titleFont": "Liberation Sans", "titleFontSize": 20, "titleFontWeight": "bold", "titleColor": "black"},
"axisX": {"labelPadding": 6.5, "titlePadding": 15},
"axisY": {"labelPadding": 6, "titlePadding": 2, "titleX": -53, "titleAngle": 270, "titleAlign": "center", "titleBaseline": "middle"},
"legend": {"symbolType": "M-2.5,0H2.5", "symbolSize": 400, "symbolStrokeWidth": 3, "labelFont": "Liberation Sans", "labelFontSize": 20, "labelFontWeight": "bold", "labelColor": "black", "labelOffset": 21.5, "padding": 0, "labelLimit": 400}
}
}
